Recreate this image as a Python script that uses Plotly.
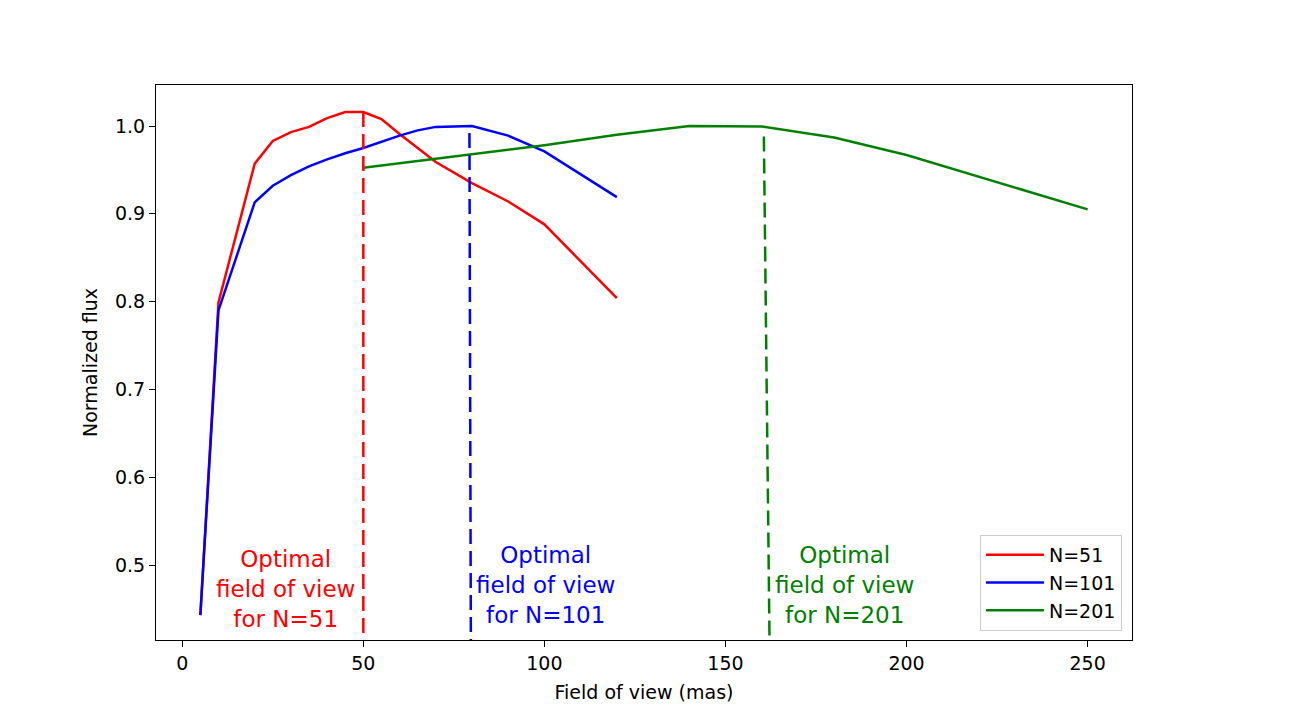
import plotly.graph_objects as go

# ---- data ----
x_n51 = [5, 10, 20, 25, 30, 35, 40, 45, 50, 55, 60, 70, 80, 90, 100, 120]
y_n51 = [0.443, 0.799, 0.957, 0.983, 0.993, 0.999, 1.009, 1.016, 1.016, 1.008,
         0.991, 0.959, 0.935, 0.914, 0.888, 0.804]

x_n101 = [5, 10, 20, 25, 30, 35, 40, 45, 50, 55, 60, 65, 70, 80, 90, 100, 120]
y_n101 = [0.443, 0.790, 0.913, 0.932, 0.944, 0.954, 0.962, 0.969, 0.975, 0.982,
          0.989, 0.995, 0.999, 1.000, 0.989, 0.971, 0.919]

x_n201 = [50, 100, 120, 140, 160, 180, 200, 250]
y_n201 = [0.9525, 0.978, 0.990, 1.000, 0.9995, 0.987, 0.967, 0.905]

series_names = ["N=51", "N=101", "N=201"]
series_colors = ["#ff0000", "#0000ff", "#008000"]

# optimal field of view markers (top x, bottom x, top y)
opt_x_top = [50, 79.3, 160.6]
opt_x_bottom = [50, 79.7, 162.2]
opt_y_top = [1.016, 0.992, 0.988]
opt_y_bottom = 0.40

# annotation texts and positions
ann_texts = ["Optimal<br>field of view<br>for N=51",
             "Optimal<br>field of view<br>for N=101",
             "Optimal<br>field of view<br>for N=201"]
ann_x = [28.5, 100.2, 182.8]
ann_y = [0.473, 0.477, 0.477]

x_ticks = [0, 50, 100, 150, 200, 250]
y_ticks = [0.5, 0.6, 0.7, 0.8, 0.9, 1.0]

FONT = "DejaVu Sans"

fig = go.Figure()
xs = [x_n51, x_n101, x_n201]
ys = [y_n51, y_n101, y_n201]
for i in range(3):
    fig.add_trace(go.Scatter(
        x=xs[i], y=ys[i], mode="lines", name=series_names[i],
        line=dict(color=series_colors[i], width=2.5)))

for i in range(3):
    fig.add_trace(go.Scatter(
        x=[opt_x_top[i], opt_x_bottom[i]], y=[opt_y_top[i], opt_y_bottom],
        mode="lines", showlegend=False,
        line=dict(color=series_colors[i], width=2.5, dash="15px,7px")))

for i in range(3):
    fig.add_annotation(x=ann_x[i], y=ann_y[i], text=ann_texts[i],
                       showarrow=False, xanchor="center", yanchor="middle",
                       font=dict(family=FONT, size=23, color=series_colors[i]))

fig.update_layout(
    width=1315, height=720,
    paper_bgcolor="white", plot_bgcolor="white",
    margin=dict(l=156, r=183, t=85, b=80),
    font=dict(family=FONT, size=19, color="black"),
    showlegend=True,
    legend=dict(x=0.9897, y=0.0162, xanchor="right", yanchor="bottom",
                bgcolor="rgba(255,255,255,0.8)", bordercolor="#cccccc",
                borderwidth=1, font=dict(family=FONT, size=19),
                itemwidth=58),
    xaxis=dict(range=[-7.25, 262.25], tickvals=x_ticks, ticks="outside",
               ticklen=6, tickwidth=1.2, tickcolor="black",
               showline=True, linecolor="black", linewidth=1.2, mirror=True,
               showgrid=False, zeroline=False,
               title=dict(text="Field of view (mas)", standoff=12,
                          font=dict(family=FONT, size=19))),
    yaxis=dict(range=[0.4146, 1.0467], tickvals=y_ticks, tickformat=".1f",
               ticks="outside", ticklen=6, tickwidth=1.2, tickcolor="black",
               showline=True, linecolor="black", linewidth=1.2, mirror=True,
               showgrid=False, zeroline=False,
               title=dict(text="Normalized flux", standoff=12,
                          font=dict(family=FONT, size=19))),
)

fig.write_html("out.html")
